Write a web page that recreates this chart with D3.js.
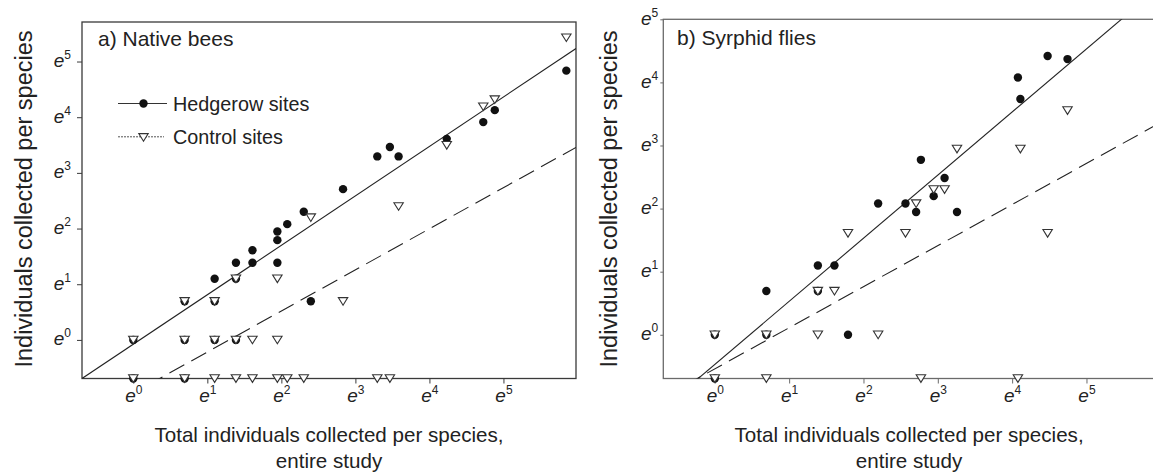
<!DOCTYPE html>
<html><head><meta charset="utf-8">
<script src="https://cdn.jsdelivr.net/npm/d3@7"></script>
<style>
body{margin:0;background:#fff;}
svg{display:block;font-family:"Liberation Sans",Arial,Helvetica,sans-serif;}
</style></head><body>
<svg id="c" width="1153" height="474"></svg>
<script>
// ---- Data (counts per species) ----
// a) Native bees
const beeTotal   = [1,1,2,2,2,3,3,3,4,4,4,5,5,7,7,7,8,10,11,17,27,32,36,69,113,132,347];
const beeHedge   = [1,0,0,1,2,1,2,3,1,3,4,4,5,4,6,7,8,10,2,15,27,32,27,37,50,62,126];
const beeControl = [0,1,2,1,0,2,1,0,3,1,0,1,0,3,1,0,0,0,9,2,0,0,11,33,66,75,228];
// b) Syrphid flies
const flyTotal   = [1,1,2,2,4,4,5,6,9,13,15,16,19,22,26,59,61,88,115];
const flyHedge   = [1,0,2,1,3,2,3,1,8,8,7,16,9,12,7,59,42,83,79];
const flyControl = [0,1,0,1,1,2,2,5,1,5,8,0,10,10,19,0,19,5,35];
// fitted lines on ln-ln scale: [intercept, slope]
const beeHedgeFit   = [-0.077, 0.888];
const beeControlFit = [-0.956, 0.738];
const flyHedgeFit   = [-0.47, 1.0];
const flyControlFit = [-0.54, 0.651];
const tickExponents = [0,1,2,3,4,5];
const panelTitles = ["a) Native bees", "b) Syrphid flies"];
const legendLabels = ["Hedgerow sites", "Control sites"];
const xTitleLines = ["Total individuals collected per species,", "entire study"];
const yTitle = "Individuals collected per species";
const zeroValue = 0.5; // species with no individuals sit on the bottom axis

const svg = d3.select("#c");
const tri = "M-4.7,-3.7L4.7,-3.7L0,3.9Z";

const panels = [
  {total: beeTotal, hedge: beeHedge, control: beeControl, hFit: beeHedgeFit, cFit: beeControlFit,
   title: panelTitles[0], xr:[82,576], yr:[378.5,22], xmaxLn:5.98, ymaxLn:5.71, box:true,
   ylabX:31.5, titleX:98, titleY:46, legend:true, frame:"#3a3a3a"},
  {total: flyTotal, hedge: flyHedge, control: flyControl, hFit: flyHedgeFit, cFit: flyControlFit,
   title: panelTitles[1], xr:[663.3,1160.8], yr:[378.5,19.3], xmaxLn:6, ymaxLn:5, box:true,
   ylabX:616.5, titleX:677, titleY:45, legend:false, frame:"#6a6a6a"}
];

panels.forEach((p,i)=>{
  const x = d3.scaleLog().base(Math.E).domain([zeroValue, Math.exp(p.xmaxLn)]).range(p.xr);
  const y = d3.scaleLog().base(Math.E).domain([zeroValue, Math.exp(p.ymaxLn)]).range(p.yr);
  const g = svg.append("g");
  const cid = "clip"+i;
  svg.append("clipPath").attr("id",cid).append("rect")
    .attr("x",p.xr[0]).attr("y",p.yr[1]).attr("width",p.xr[1]-p.xr[0]).attr("height",p.yr[0]-p.yr[1]);

  // frame
  g.append("rect").attr("x",p.xr[0]).attr("y",p.yr[1]).attr("width",p.xr[1]-p.xr[0])
    .attr("height",p.yr[0]-p.yr[1]).attr("fill","none").attr("stroke",p.frame).attr("stroke-width",1.3);

  // axes
  const tv = tickExponents.map(Math.exp);
  const xa = g.append("g").attr("transform",`translate(0,${p.yr[0]})`)
    .call(d3.axisBottom(x).tickValues(tv).tickSize(5).tickSizeOuter(0));
  const ya = g.append("g").attr("transform",`translate(${p.xr[0]},0)`)
    .call(d3.axisLeft(y).tickValues(tv).tickSize(i===0?5:3).tickSizeOuter(0));
  [xa,ya].forEach(a=>{ a.select(".domain").remove(); a.selectAll(".tick line").attr("stroke",p.frame); });
  const fmt = function(d){
    const t = d3.select(this).text(null).attr("fill","#222").attr("font-size",19);
    t.append("tspan").attr("font-style","italic").text("e");
    t.append("tspan").attr("font-size",12).attr("dy",-8).text(Math.round(Math.log(d)));
  };
  xa.selectAll(".tick text").attr("y",23.2).attr("dy",0).attr("text-anchor","middle").each(fmt);
  ya.selectAll(".tick text").attr("x",i===0?-11:-5).attr("dy",5).attr("text-anchor","end").each(fmt);

  // fitted lines
  const lnx0 = Math.log(zeroValue), lnx1 = p.xmaxLn;
  const lines = [[p.hFit,null],[p.cFit,"17,8"]];
  lines.forEach(([f,dash])=>{
    g.append("line").attr("clip-path",`url(#${cid})`)
      .attr("x1",x(Math.exp(lnx0))).attr("y1",y(Math.exp(f[0]+f[1]*lnx0)))
      .attr("x2",x(Math.exp(lnx1))).attr("y2",y(Math.exp(f[0]+f[1]*lnx1)))
      .attr("stroke","#222").attr("stroke-width",1.1).attr("stroke-dasharray",dash);
  });

  // points
  const vy = v => y(v>0?v:zeroValue);
  g.append("g").selectAll("circle").data(p.total).join("circle")
    .attr("cx",d=>x(d)).attr("cy",(d,k)=>vy(p.hedge[k])).attr("r",4.2).attr("fill","#111");
  g.append("g").selectAll("path").data(p.total).join("path")
    .attr("d",tri).attr("transform",(d,k)=>`translate(${x(d)},${vy(p.control[k])})`)
    .attr("fill","#fff").attr("stroke","#333").attr("stroke-width",1.1);

  // title
  g.append("text").attr("x",p.titleX).attr("y",p.titleY).attr("font-size",21).attr("fill","#222").text(p.title);

  // axis titles
  const cx = (p.xr[0]+p.xr[1])/2 - (i===1?3:0);
  g.append("text").attr("x",cx).attr("y",441.5).attr("text-anchor","middle").attr("font-size",20.6).attr("fill","#222").text(xTitleLines[0]);
  g.append("text").attr("x",cx).attr("y",467.5).attr("text-anchor","middle").attr("font-size",20.6).attr("fill","#222").text(xTitleLines[1]);
  g.append("text").attr("transform",`translate(${p.ylabX},199) rotate(-90)`).attr("text-anchor","middle")
    .attr("font-size",23.5).attr("fill","#222").text(yTitle);

  if(p.legend){
    const L = g.append("g");
    L.append("line").attr("x1",118).attr("x2",167).attr("y1",103.5).attr("y2",103.5).attr("stroke","#333").attr("stroke-width",1.1);
    L.append("circle").attr("cx",143.5).attr("cy",103.5).attr("r",4.2).attr("fill","#111");
    L.append("text").attr("x",173).attr("y",110.7).attr("font-size",19.8).attr("fill","#222").text(legendLabels[0]);
    L.append("line").attr("x1",118).attr("x2",164).attr("y1",136.8).attr("y2",136.8).attr("stroke","#555").attr("stroke-width",1).attr("stroke-dasharray","2,1");
    L.append("path").attr("d",tri).attr("transform","translate(143.5,137.3)").attr("fill","#fff").attr("stroke","#333").attr("stroke-width",1.1);
    L.append("text").attr("x",173).attr("y",143.5).attr("font-size",19.8).attr("fill","#222").text(legendLabels[1]);
  }
});
</script>
</body></html>
